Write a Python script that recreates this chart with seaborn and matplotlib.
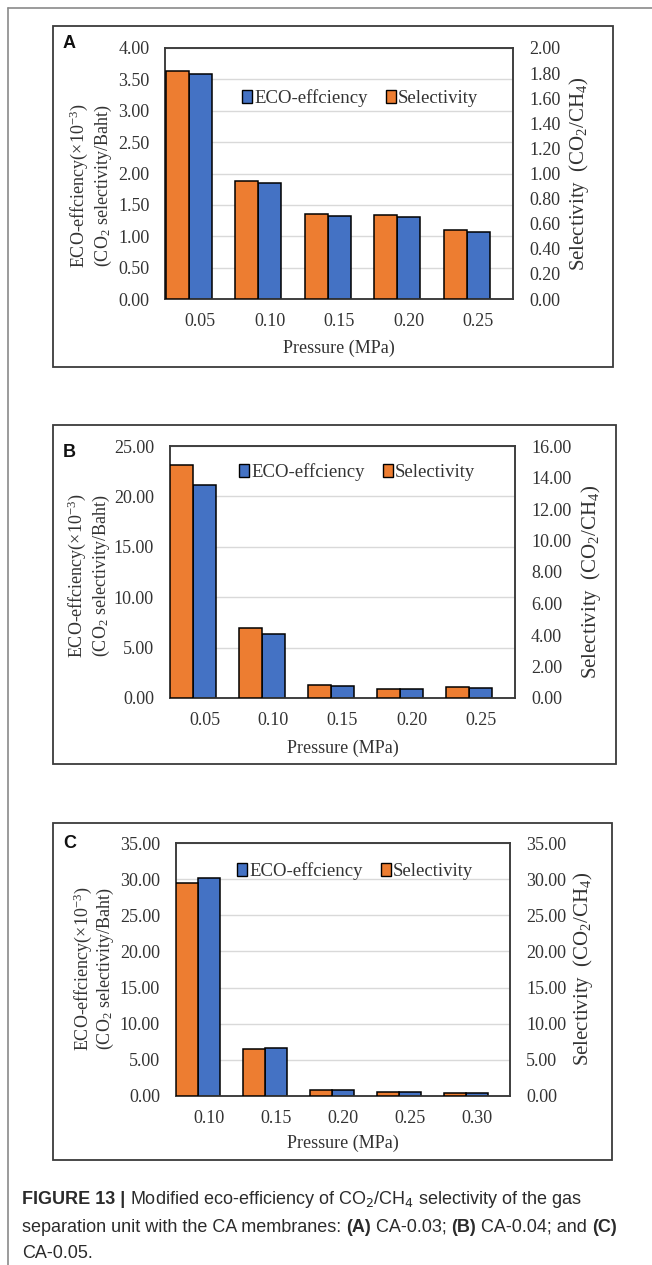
import numpy as np
import matplotlib
matplotlib.use("Agg")
import matplotlib.pyplot as plt
from matplotlib.patches import Rectangle
from matplotlib.lines import Line2D
from matplotlib.font_manager import FontProperties
import seaborn as sns

# ---- data -------------------------------------------------------------
pressure_ab = ["0.05", "0.10", "0.15", "0.20", "0.25"]
pressure_c = ["0.10", "0.15", "0.20", "0.25", "0.30"]

eco_a = [3.58, 1.85, 1.33, 1.31, 1.07]
sel_a = [1.82, 0.94, 0.68, 0.67, 0.55]

eco_b = [21.15, 6.35, 1.22, 0.86, 1.02]
sel_b = [14.80, 4.45, 0.82, 0.59, 0.70]

eco_c = [30.15, 6.64, 0.84, 0.52, 0.45]
sel_c = [29.45, 6.45, 0.84, 0.52, 0.46]

left_ticks_a = [0.0, 0.5, 1.0, 1.5, 2.0, 2.5, 3.0, 3.5, 4.0]
right_ticks_a = [0.0, 0.2, 0.4, 0.6, 0.8, 1.0, 1.2, 1.4, 1.6, 1.8, 2.0]
left_ticks_b = [0, 5, 10, 15, 20, 25]
right_ticks_b = [0, 2, 4, 6, 8, 10, 12, 14, 16]
ticks_c = [0, 5, 10, 15, 20, 25, 30, 35]

series_names = ["ECO-effciency", "Selectivity"]

# ---- style ------------------------------------------------------------
sns.set_theme(style="white")
plt.rcParams["font.family"] = ["Liberation Serif", "DejaVu Serif"]
plt.rcParams["mathtext.fontset"] = "custom"
plt.rcParams["mathtext.rm"] = "Liberation Serif"
plt.rcParams["mathtext.it"] = "Liberation Serif:italic"

BLUE = "#4472C4"
ORANGE = "#ED7D31"
GRID = "#D9D9D9"
TXT = "#333333"
FS = 13

W, H = 652, 1265
fig = plt.figure(figsize=(W / 100, H / 100), dpi=100)


def frac_rect(l, t, r, b):
    return [l / W, 1 - b / H, (r - l) / W, (b - t) / H]


# page frame (top and left rules)
fig.add_artist(Line2D([8 / W, 1], [1 - 8 / H, 1 - 8 / H], color="#8a8a8a", lw=1.2))
fig.add_artist(Line2D([8 / W, 8 / W], [0, 1 - 8 / H], color="#8a8a8a", lw=1.2))

panels = [
    dict(letter="A", cats=pressure_ab, eco=eco_a, sel=sel_a,
         lt=left_ticks_a, rt=right_ticks_a,
         box=(53, 26, 613, 367), plot=(165.5, 48, 513, 299),
         letter_xy=(63, 43.5), legend_xy=(360, 98),
         ylab_l=(79, 103, 186), ylab_r=(579, 173.5), xlab_y=348),
    dict(letter="B", cats=pressure_ab, eco=eco_b, sel=sel_b,
         lt=left_ticks_b, rt=right_ticks_b,
         box=(53, 425, 616, 764), plot=(170, 446, 515, 698),
         letter_xy=(63, 453), legend_xy=(357, 472),
         ylab_l=(77, 101, 576), ylab_r=(591, 582), xlab_y=748),
    dict(letter="C", cats=pressure_c, eco=eco_c, sel=sel_c,
         lt=ticks_c, rt=ticks_c,
         box=(53, 823, 612, 1160), plot=(176, 843, 510, 1096),
         letter_xy=(63, 843), legend_xy=(355, 871),
         ylab_l=(83, 105, 969), ylab_r=(583, 969), xlab_y=1143),
]

BAR_W = 0.33

for p in panels:
    bl, bt, br, bb = p["box"]
    fig.add_artist(Rectangle((bl / W, 1 - bb / H), (br - bl) / W, (bb - bt) / H,
                             transform=fig.transFigure, fill=False,
                             edgecolor="#3a3a3a", lw=1.3))

    ax = fig.add_axes(frac_rect(*p["plot"]))
    ax2 = ax.twinx()
    n = len(p["cats"])
    pos = np.arange(n, dtype=float)

    sns.barplot(x=pos, y=p["eco"], native_scale=True, width=BAR_W,
                color=BLUE, saturation=1, edgecolor="black", linewidth=1.1,
                errorbar=None, ax=ax, zorder=3)
    sns.barplot(x=pos - BAR_W, y=p["sel"], native_scale=True, width=BAR_W,
                color=ORANGE, saturation=1, edgecolor="black", linewidth=1.1,
                errorbar=None, ax=ax2, zorder=3)

    for a, ticks in ((ax, p["lt"]), (ax2, p["rt"])):
        a.set_ylim(ticks[0], ticks[-1])
        a.set_yticks(ticks)
        a.set_yticklabels([f"{v:.2f}" for v in ticks])
        a.set_xlabel("")
        a.set_ylabel("")
    ax.set_xlim(-0.5, n - 0.5)
    ax2.set_xlim(-0.5, n - 0.5)
    ax.set_xticks(pos)
    ax.set_xticklabels(p["cats"])

    ax.grid(axis="y", color=GRID, lw=1.0, zorder=0)
    ax.grid(axis="x", visible=False)
    ax2.grid(False)
    ax.set_axisbelow(True)
    for a in (ax, ax2):
        for s in a.spines.values():
            s.set_color("#3a3a3a")
            s.set_linewidth(1.1)
        a.tick_params(length=0, labelsize=FS, colors=TXT, pad=11.5)
    ax.tick_params(axis="x", pad=10)

    # axis titles
    ylx1, ylx2, yly = p["ylab_l"]
    fig.text(ylx1 / W, 1 - yly / H, r"ECO-effciency($\times$10$^{-3}$)",
             rotation=90, ha="center", va="center", fontsize=FS, color=TXT)
    fig.text(ylx2 / W, 1 - yly / H, r"(CO$_2$ selectivity/Baht)",
             rotation=90, ha="center", va="center", fontsize=FS, color=TXT)
    rx, ry = p["ylab_r"]
    fig.text(rx / W, 1 - ry / H, r"Selectivity  (CO$_2$/CH$_4$)",
             rotation=90, ha="center", va="center", fontsize=15, color=TXT)
    pl, pt, pr, pb = p["plot"]
    fig.text(((pl + pr) / 2) / W, 1 - p["xlab_y"] / H, "Pressure (MPa)",
             ha="center", va="center", fontsize=FS, color=TXT)

    lx, lyy = p["letter_xy"]
    fig.text(lx / W, 1 - lyy / H, p["letter"], ha="left", va="center",
             fontsize=13, fontweight="bold", family="Liberation Sans", color="#111111")

    handles = [Rectangle((0, 0), 1, 1, facecolor=BLUE, edgecolor="black", lw=1.0),
               Rectangle((0, 0), 1, 1, facecolor=ORANGE, edgecolor="black", lw=1.0)]
    lgx, lgy = p["legend_xy"]
    ax2.legend(handles, series_names, loc="center", ncol=2, frameon=False,
               bbox_to_anchor=(lgx / W, 1 - lgy / H), bbox_transform=fig.transFigure,
               fontsize=FS + 0.5, handlelength=0.55, handleheight=0.65,
               handletextpad=0.12, columnspacing=0.95, labelcolor=TXT)

# ---- caption ----------------------------------------------------------
renderer = fig.canvas.get_renderer()
CAP_FS = 13
CAP_COLOR = "#2b2b2b"


def caption_line(runs, x0, y):
    x = x0
    for text, weight in runs:
        fp = FontProperties(family="Liberation Sans", weight=weight, size=CAP_FS,
                            math_fontfamily="dejavusans")
        t = fig.text(x / W, 1 - y / H, text, fontproperties=fp, ha="left",
                     va="center", color=CAP_COLOR)
        x += t.get_window_extent(renderer).width


caption_line([("FIGURE 13 |", "bold"),
              (" Modified eco-efficiency of CO$_2$/CH$_4$ selectivity of the gas", "normal")],
             22, 1200)
caption_line([("separation unit with the CA membranes: ", "normal"), ("(A)", "bold"),
              (" CA-0.03; ", "normal"), ("(B)", "bold"), (" CA-0.04; and ", "normal"),
              ("(C)", "bold")], 22, 1227)
caption_line([("CA-0.05.", "normal")], 22, 1254)

fig.savefig("out.png", dpi=100)
